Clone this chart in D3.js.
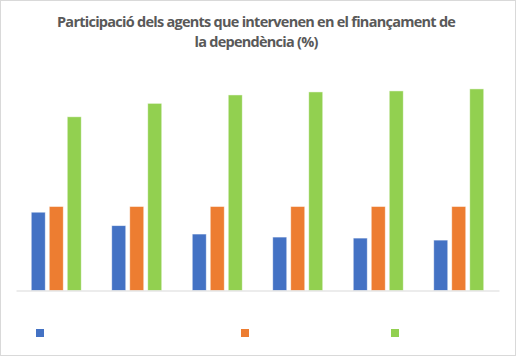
<!DOCTYPE html>
<html>
<head>
<meta charset="utf-8">
<script src="https://cdn.jsdelivr.net/npm/d3@7"></script>
<style>
  html, body { margin: 0; padding: 0; background: #fff; }
  svg { display: block; }
</style>
</head>
<body>
<script>
// ---- data ----
const categories = ["1", "2", "3", "4", "5", "6"];
const seriesNames = ["", "", ""];
const seriesColors = ["#4472C4", "#ED7D31", "#92D050"];
const blueValues = [23.3, 19.3, 16.8, 15.9, 15.6, 15.0];
const orangeValues = [25.0, 25.0, 25.0, 25.0, 25.0, 25.0];
const greenValues = [51.7, 55.7, 58.2, 59.1, 59.4, 60.0];
const titleLines = ["Participació dels agents que intervenen en el finançament de", "la dependència (%)"];

const series = [blueValues, orangeValues, greenValues];

const W = 516, H = 356;
const svg = d3.select("body").append("svg").attr("width", W).attr("height", H);

// frame
svg.append("rect").attr("x", 0.5).attr("y", 0.5).attr("width", W - 1).attr("height", H - 1)
  .attr("fill", "#fff").attr("stroke", "#d9d9d9").attr("stroke-width", 1);

// title
const titleW = [398, 123];
titleLines.forEach((t, i) => {
  svg.append("text")
    .attr("x", 256).attr("y", 27 + i * 20)
    .attr("text-anchor", "middle")
    .attr("font-family", "'Open Sans', 'Liberation Sans', sans-serif")
    .attr("font-weight", 700)
    .attr("font-size", 14.5)
    .attr("fill", "#595959")
    .attr("letter-spacing", -0.9)
    .attr("textLength", titleW[i])
    .attr("lengthAdjust", "spacing")
    .text(t);
});

// scales
const baseY = 290.5;
const y = d3.scaleLinear().domain([0, 70]).range([baseY, baseY - 70 * 3.36]);
const x0 = d3.scaleBand().domain(categories).range([16, 499])
  .paddingInner(0.379).paddingOuter(0.1895);
const x1 = d3.scaleBand().domain(d3.range(series.length)).range([0, x0.bandwidth()])
  .paddingInner(0.222).paddingOuter(0);

// bars
const g = svg.append("g");
categories.forEach((c, ci) => {
  series.forEach((vals, si) => {
    g.append("rect")
      .attr("x", x0(c) + x1(si))
      .attr("y", y(vals[ci]))
      .attr("width", x1.bandwidth())
      .attr("height", y(0) - y(vals[ci]))
      .attr("fill", seriesColors[si])
      .attr("stroke", "#fff")
      .attr("stroke-opacity", 0.6)
      .attr("stroke-width", 0.8);
  });
});

// x axis (no labels)
const xAxis = d3.axisBottom(x0).tickSize(0).tickFormat(() => "");
const ax = svg.append("g").attr("transform", `translate(0,${baseY})`).call(xAxis);
ax.select(".domain").attr("stroke", "#d9d9d9").attr("stroke-width", 1.2);

// legend markers
const legendX = [36, 241, 391];
series.forEach((s, i) => {
  svg.append("rect")
    .attr("x", legendX[i]).attr("y", 329)
    .attr("width", 8).attr("height", 8)
    .attr("fill", seriesColors[i]);
  svg.append("text")
    .attr("x", legendX[i] + 12).attr("y", 337)
    .attr("font-family", "'Open Sans', sans-serif")
    .attr("font-size", 11)
    .attr("fill", "#595959")
    .text(seriesNames[i]);
});
</script>
</body>
</html>
